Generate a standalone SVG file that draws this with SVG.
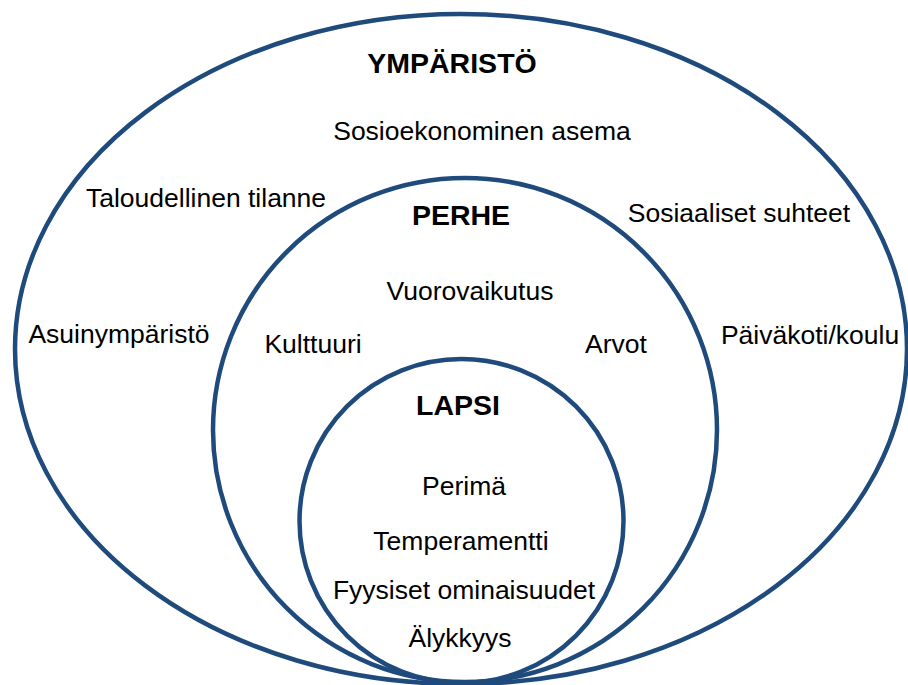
<svg xmlns="http://www.w3.org/2000/svg" width="908" height="685" viewBox="0 0 908 685">
<style>
.ring{fill:none;stroke:#1f4a7c;stroke-width:4.5}
text{font-family:"Liberation Sans",Arial,sans-serif;fill:#000;text-anchor:middle}
.t{font-size:26.5px}
.h{font-size:28.5px;font-weight:bold}
</style>
<rect width="908" height="685" fill="#fff"/>
<g id="ymparisto">
<ellipse class="ring" cx="461" cy="349" rx="446" ry="335"/>
<text class="h" x="452" y="73">YMPÄRISTÖ</text>
<text class="t" x="482" y="140">Sosioekonominen asema</text>
<text class="t" x="206" y="207">Taloudellinen tilanne</text>
<text class="t" x="739" y="222">Sosiaaliset suhteet</text>
<text class="t" x="119" y="343">Asuinympäristö</text>
<text class="t" x="810" y="344">Päiväkoti/koulu</text>
</g>
<g id="perhe">
<circle class="ring" cx="465" cy="430" r="252"/>
<text class="h" x="461" y="225">PERHE</text>
<text class="t" x="470" y="300">Vuorovaikutus</text>
<text class="t" x="313" y="353">Kulttuuri</text>
<text class="t" x="616" y="353">Arvot</text>
</g>
<g id="lapsi">
<circle class="ring" cx="461.5" cy="521" r="162"/>
<text class="h" x="458" y="415">LAPSI</text>
<text class="t" x="464" y="495">Perimä</text>
<text class="t" x="461" y="550">Temperamentti</text>
<text class="t" x="464" y="599">Fyysiset ominaisuudet</text>
<text class="t" x="460" y="647">Älykkyys</text>
</g>
<g id="connectors"/>
</svg>
